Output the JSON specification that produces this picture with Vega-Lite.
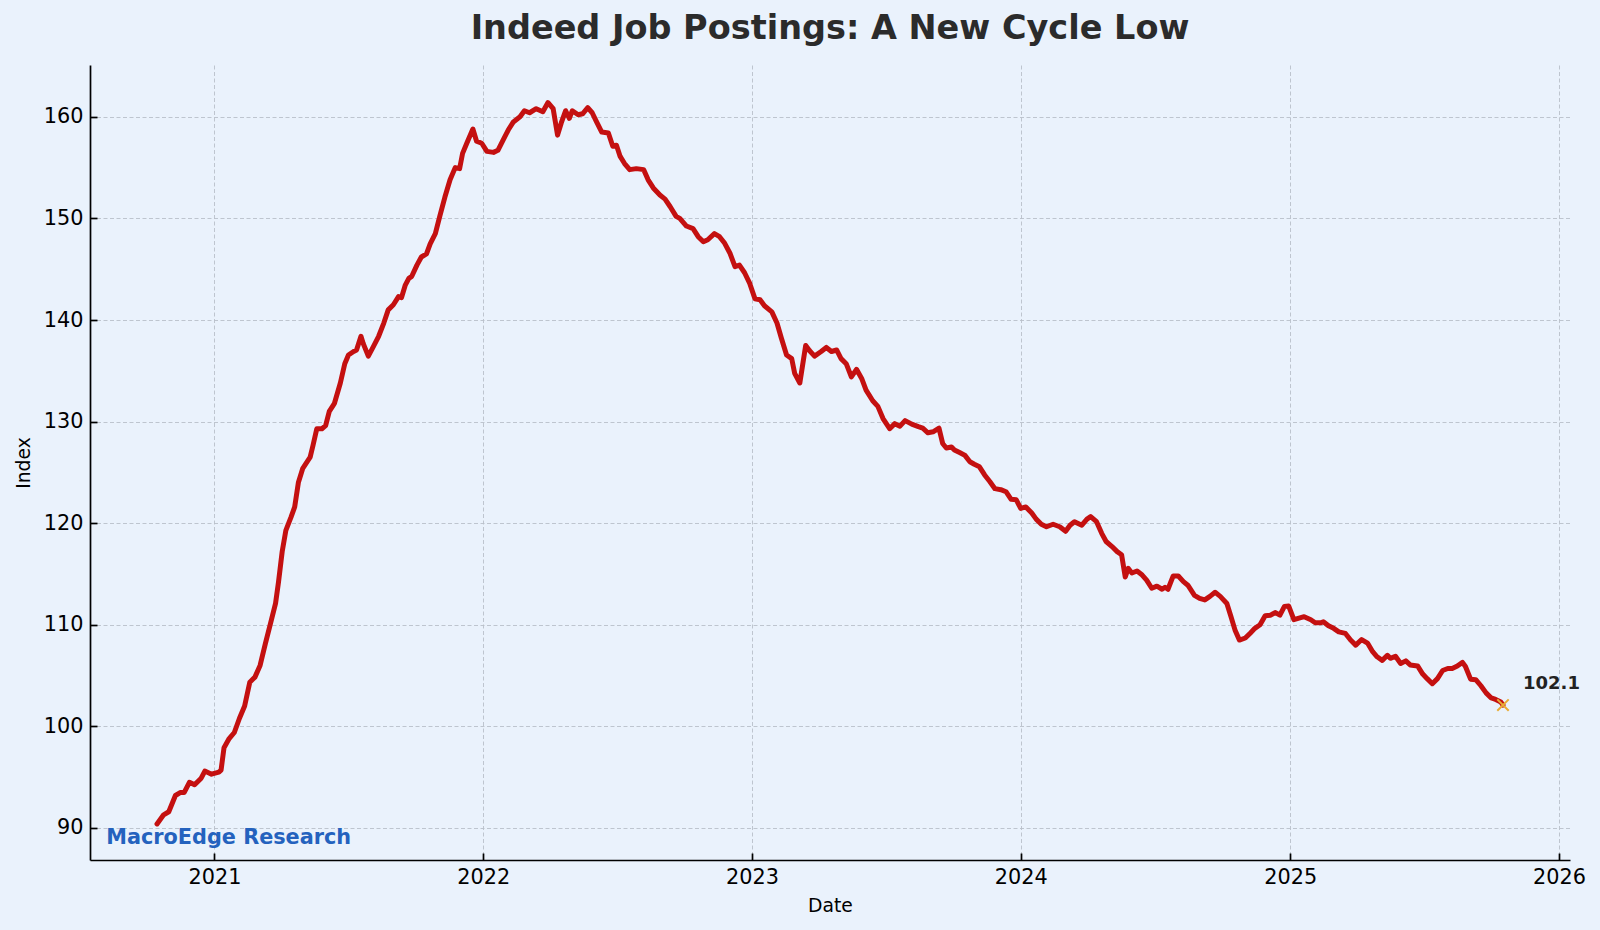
{
  "$schema": "https://vega.github.io/schema/vega-lite/v6.json",
  "width": 1480,
  "height": 795,
  "autosize": {"type": "none"},
  "padding": {"left": 90, "top": 65, "right": 30, "bottom": 70},
  "background": "#EAF2FC",
  "title": {
    "text": "Indeed Job Postings: A New Cycle Low",
    "fontSize": 33.5,
    "fontWeight": "bold",
    "font": "DejaVu Sans",
    "color": "#2B2B2B",
    "anchor": "middle",
    "frame": "group",
    "baseline": "alphabetic",
    "offset": -7
  },
  "config": {
    "view": {"stroke": null, "fill": "#EAF2FC"},
    "font": "DejaVu Sans",
    "axis": {
      "labelFont": "DejaVu Sans",
      "titleFont": "DejaVu Sans",
      "labelFontSize": 20.8,
      "titleFontSize": 18.75,
      "titleFontWeight": "normal",
      "labelColor": "#000000",
      "titleColor": "#000000",
      "domainColor": "#000000",
      "domainWidth": 1.7,
      "tickColor": "#000000",
      "tickWidth": 1.7,
      "tickSize": -7,
      "labelPadding": 14,
      "grid": true,
      "gridColor": "#B9C0CA",
      "gridWidth": 0.9,
      "gridDash": [4, 2.5],
      "labelOverlap": false,
      "labelFlush": false
    }
  },
  "datasets": {
    "postings": [
      {"date":"2020-10-15","value":90.4},{"date":"2020-10-24","value":91.3},{"date":"2020-10-31","value":91.6},{"date":"2020-11-09","value":93.2},{"date":"2020-11-16","value":93.5},{"date":"2020-11-21","value":93.5},{"date":"2020-11-28","value":94.5},{"date":"2020-12-05","value":94.25},{"date":"2020-12-14","value":94.9},{"date":"2020-12-19","value":95.6},{"date":"2020-12-28","value":95.3},
      {"date":"2021-01-07","value":95.5},{"date":"2021-01-10","value":95.7},{"date":"2021-01-14","value":97.9},{"date":"2021-01-21","value":98.8},{"date":"2021-01-28","value":99.4},{"date":"2021-02-04","value":100.8},{"date":"2021-02-11","value":102.0},{"date":"2021-02-18","value":104.35},{"date":"2021-02-25","value":104.85},{"date":"2021-03-04","value":106.0},{"date":"2021-03-11","value":108.1},{"date":"2021-03-18","value":110.1},{"date":"2021-03-25","value":112.1},{"date":"2021-03-29","value":114.2},{"date":"2021-04-03","value":117.2},{"date":"2021-04-08","value":119.3},{"date":"2021-04-15","value":120.6},{"date":"2021-04-20","value":121.6},{"date":"2021-04-25","value":124.0},{"date":"2021-05-01","value":125.4},{"date":"2021-05-11","value":126.5},{"date":"2021-05-15","value":127.7},{"date":"2021-05-20","value":129.3},{"date":"2021-05-27","value":129.3},{"date":"2021-06-01","value":129.6},{"date":"2021-06-06","value":131.0},{"date":"2021-06-13","value":131.8},{"date":"2021-06-21","value":133.8},{"date":"2021-06-27","value":135.7},{"date":"2021-07-02","value":136.55},{"date":"2021-07-09","value":136.9},{"date":"2021-07-13","value":137.05},{"date":"2021-07-19","value":138.4},{"date":"2021-07-22","value":137.7},{"date":"2021-07-29","value":136.45},{"date":"2021-08-05","value":137.4},{"date":"2021-08-12","value":138.4},{"date":"2021-08-19","value":139.7},{"date":"2021-08-25","value":141.0},{"date":"2021-09-01","value":141.5},{"date":"2021-09-08","value":142.3},{"date":"2021-09-12","value":142.2},{"date":"2021-09-17","value":143.4},{"date":"2021-09-22","value":144.1},{"date":"2021-09-26","value":144.3},{"date":"2021-10-03","value":145.4},{"date":"2021-10-09","value":146.2},{"date":"2021-10-16","value":146.5},{"date":"2021-10-21","value":147.5},{"date":"2021-10-28","value":148.5},{"date":"2021-11-03","value":150.2},{"date":"2021-11-10","value":152.1},{"date":"2021-11-17","value":153.8},{"date":"2021-11-24","value":155.0},{"date":"2021-11-30","value":154.9},{"date":"2021-12-04","value":156.4},{"date":"2021-12-10","value":157.45},{"date":"2021-12-18","value":158.8},{"date":"2021-12-23","value":157.6},{"date":"2021-12-30","value":157.4},
      {"date":"2022-01-06","value":156.6},{"date":"2022-01-15","value":156.5},{"date":"2022-01-21","value":156.7},{"date":"2022-01-28","value":157.7},{"date":"2022-02-04","value":158.7},{"date":"2022-02-11","value":159.5},{"date":"2022-02-20","value":160.0},{"date":"2022-02-26","value":160.6},{"date":"2022-03-05","value":160.4},{"date":"2022-03-14","value":160.8},{"date":"2022-03-23","value":160.5},{"date":"2022-03-30","value":161.4},{"date":"2022-04-06","value":160.8},{"date":"2022-04-12","value":158.2},{"date":"2022-04-17","value":159.4},{"date":"2022-04-23","value":160.6},{"date":"2022-04-28","value":159.85},{"date":"2022-05-02","value":160.6},{"date":"2022-05-10","value":160.2},{"date":"2022-05-16","value":160.3},{"date":"2022-05-23","value":160.9},{"date":"2022-05-29","value":160.4},{"date":"2022-06-04","value":159.5},{"date":"2022-06-11","value":158.5},{"date":"2022-06-20","value":158.4},{"date":"2022-06-26","value":157.1},{"date":"2022-07-01","value":157.2},{"date":"2022-07-06","value":156.1},{"date":"2022-07-12","value":155.4},{"date":"2022-07-19","value":154.8},{"date":"2022-07-28","value":154.9},{"date":"2022-08-07","value":154.8},{"date":"2022-08-13","value":153.8},{"date":"2022-08-20","value":153.0},{"date":"2022-08-29","value":152.3},{"date":"2022-09-05","value":151.9},{"date":"2022-09-12","value":151.15},{"date":"2022-09-20","value":150.2},{"date":"2022-09-25","value":150.0},{"date":"2022-10-04","value":149.25},{"date":"2022-10-13","value":149.0},{"date":"2022-10-20","value":148.2},{"date":"2022-10-27","value":147.7},{"date":"2022-11-02","value":147.9},{"date":"2022-11-11","value":148.5},{"date":"2022-11-18","value":148.2},{"date":"2022-11-25","value":147.55},{"date":"2022-12-02","value":146.6},{"date":"2022-12-09","value":145.25},{"date":"2022-12-15","value":145.4},{"date":"2022-12-22","value":144.65},{"date":"2022-12-29","value":143.6},
      {"date":"2023-01-05","value":142.1},{"date":"2023-01-12","value":142.0},{"date":"2023-01-18","value":141.4},{"date":"2023-01-28","value":140.8},{"date":"2023-02-04","value":139.7},{"date":"2023-02-10","value":138.2},{"date":"2023-02-17","value":136.55},{"date":"2023-02-24","value":136.2},{"date":"2023-02-28","value":134.75},{"date":"2023-03-07","value":133.8},{"date":"2023-03-15","value":137.5},{"date":"2023-03-20","value":137.0},{"date":"2023-03-27","value":136.45},{"date":"2023-04-05","value":136.9},{"date":"2023-04-12","value":137.3},{"date":"2023-04-19","value":136.9},{"date":"2023-04-26","value":137.05},{"date":"2023-05-02","value":136.2},{"date":"2023-05-09","value":135.7},{"date":"2023-05-16","value":134.4},{"date":"2023-05-23","value":135.15},{"date":"2023-05-30","value":134.25},{"date":"2023-06-05","value":133.1},{"date":"2023-06-14","value":132.05},{"date":"2023-06-21","value":131.5},{"date":"2023-06-28","value":130.3},{"date":"2023-07-07","value":129.3},{"date":"2023-07-14","value":129.8},{"date":"2023-07-21","value":129.55},{"date":"2023-07-28","value":130.1},{"date":"2023-08-06","value":129.75},{"date":"2023-08-15","value":129.5},{"date":"2023-08-21","value":129.35},{"date":"2023-08-28","value":128.9},{"date":"2023-09-04","value":129.0},{"date":"2023-09-12","value":129.35},{"date":"2023-09-17","value":127.85},{"date":"2023-09-22","value":127.4},{"date":"2023-09-29","value":127.5},{"date":"2023-10-03","value":127.2},{"date":"2023-10-10","value":126.95},{"date":"2023-10-17","value":126.7},{"date":"2023-10-24","value":126.05},{"date":"2023-10-30","value":125.8},{"date":"2023-11-06","value":125.55},{"date":"2023-11-13","value":124.75},{"date":"2023-11-20","value":124.1},{"date":"2023-11-27","value":123.4},{"date":"2023-12-05","value":123.3},{"date":"2023-12-12","value":123.1},{"date":"2023-12-19","value":122.35},{"date":"2023-12-26","value":122.3},
      {"date":"2024-01-01","value":121.45},{"date":"2024-01-08","value":121.6},{"date":"2024-01-16","value":121.0},{"date":"2024-01-22","value":120.4},{"date":"2024-01-29","value":119.9},{"date":"2024-02-05","value":119.65},{"date":"2024-02-14","value":119.9},{"date":"2024-02-23","value":119.65},{"date":"2024-03-02","value":119.2},{"date":"2024-03-08","value":119.8},{"date":"2024-03-14","value":120.15},{"date":"2024-03-24","value":119.8},{"date":"2024-03-31","value":120.4},{"date":"2024-04-05","value":120.65},{"date":"2024-04-13","value":120.15},{"date":"2024-04-20","value":119.0},{"date":"2024-04-26","value":118.2},{"date":"2024-05-04","value":117.7},{"date":"2024-05-11","value":117.2},{"date":"2024-05-17","value":116.9},{"date":"2024-05-22","value":114.7},{"date":"2024-05-26","value":115.55},{"date":"2024-05-31","value":115.1},{"date":"2024-06-07","value":115.3},{"date":"2024-06-14","value":114.9},{"date":"2024-06-20","value":114.4},{"date":"2024-06-27","value":113.6},{"date":"2024-07-04","value":113.8},{"date":"2024-07-11","value":113.5},{"date":"2024-07-15","value":113.7},{"date":"2024-07-19","value":113.5},{"date":"2024-07-26","value":114.8},{"date":"2024-08-02","value":114.8},{"date":"2024-08-09","value":114.25},{"date":"2024-08-15","value":113.9},{"date":"2024-08-24","value":112.9},{"date":"2024-08-31","value":112.6},{"date":"2024-09-07","value":112.45},{"date":"2024-09-14","value":112.8},{"date":"2024-09-21","value":113.2},{"date":"2024-09-28","value":112.8},{"date":"2024-10-07","value":112.1},{"date":"2024-10-12","value":110.95},{"date":"2024-10-18","value":109.5},{"date":"2024-10-24","value":108.5},{"date":"2024-11-01","value":108.7},{"date":"2024-11-08","value":109.2},{"date":"2024-11-14","value":109.65},{"date":"2024-11-21","value":110.0},{"date":"2024-11-28","value":110.9},{"date":"2024-12-05","value":110.95},{"date":"2024-12-12","value":111.2},{"date":"2024-12-18","value":110.95},{"date":"2024-12-24","value":111.8},{"date":"2024-12-30","value":111.85},
      {"date":"2025-01-06","value":110.5},{"date":"2025-01-13","value":110.65},{"date":"2025-01-20","value":110.8},{"date":"2025-01-29","value":110.5},{"date":"2025-02-04","value":110.2},{"date":"2025-02-11","value":110.2},{"date":"2025-02-15","value":110.3},{"date":"2025-02-22","value":109.9},{"date":"2025-03-01","value":109.65},{"date":"2025-03-08","value":109.3},{"date":"2025-03-17","value":109.15},{"date":"2025-03-24","value":108.5},{"date":"2025-03-31","value":108.0},{"date":"2025-04-08","value":108.55},{"date":"2025-04-16","value":108.2},{"date":"2025-04-23","value":107.35},{"date":"2025-04-29","value":106.85},{"date":"2025-05-06","value":106.5},{"date":"2025-05-13","value":107.0},{"date":"2025-05-17","value":106.7},{"date":"2025-05-24","value":106.9},{"date":"2025-05-31","value":106.2},{"date":"2025-06-07","value":106.45},{"date":"2025-06-13","value":106.05},{"date":"2025-06-23","value":105.95},{"date":"2025-06-30","value":105.15},{"date":"2025-07-06","value":104.7},{"date":"2025-07-13","value":104.2},{"date":"2025-07-20","value":104.7},{"date":"2025-07-27","value":105.5},{"date":"2025-08-03","value":105.7},{"date":"2025-08-09","value":105.7},{"date":"2025-08-16","value":105.95},{"date":"2025-08-23","value":106.3},{"date":"2025-08-27","value":105.9},{"date":"2025-09-03","value":104.65},{"date":"2025-09-10","value":104.6},{"date":"2025-09-17","value":104.0},{"date":"2025-09-24","value":103.3},{"date":"2025-10-01","value":102.8},{"date":"2025-10-07","value":102.65},{"date":"2025-10-14","value":102.4},{"date":"2025-10-17","value":102.1}
    ],
    "last": [{"date":"2025-10-17","value":102.1,"label":"102.1"}],
    "brand": [{"date":"2020-08-07","value":88.4,"label":"MacroEdge Research"}]
  },
  "encoding": {
    "x": {
      "field": "date",
      "type": "temporal",
      "scale": {"type": "utc", "domain": [{"year": 2020, "month": 7, "date": 16, "utc": true}, {"year": 2026, "month": 1, "date": 16, "utc": true}]},
      "axis": {"title": "Date", "format": "%Y", "tickCount": {"interval": "year", "step": 1}, "titlePadding": 10}
    },
    "y": {
      "field": "value",
      "type": "quantitative",
      "scale": {"domain": [86.85, 165.1], "nice": false, "zero": false},
      "axis": {"title": "Index", "values": [90, 100, 110, 120, 130, 140, 150, 160], "titlePadding": 10}
    }
  },
  "layer": [
    {
      "data": {"name": "postings"},
      "mark": {"type": "line", "color": "#C41010", "strokeWidth": 5, "strokeJoin": "round", "strokeCap": "round"}
    },
    {
      "data": {"name": "last"},
      "mark": {"type": "point", "shape": "M-1,-1L1,1M1,-1L-1,1", "filled": false, "stroke": "#E9AC35", "strokeWidth": 2, "size": 130, "opacity": 1}
    },
    {
      "data": {"name": "last"},
      "mark": {"type": "text", "align": "left", "baseline": "alphabetic", "dx": 20, "dy": -16, "fontSize": 18, "fontWeight": "bold", "color": "#222222"},
      "encoding": {"text": {"field": "label"}}
    },
    {
      "data": {"name": "brand"},
      "mark": {"type": "text", "align": "left", "baseline": "alphabetic", "fontSize": 20.8, "fontWeight": "bold", "color": "#2462BE"},
      "encoding": {"text": {"field": "label"}}
    }
  ]
}
